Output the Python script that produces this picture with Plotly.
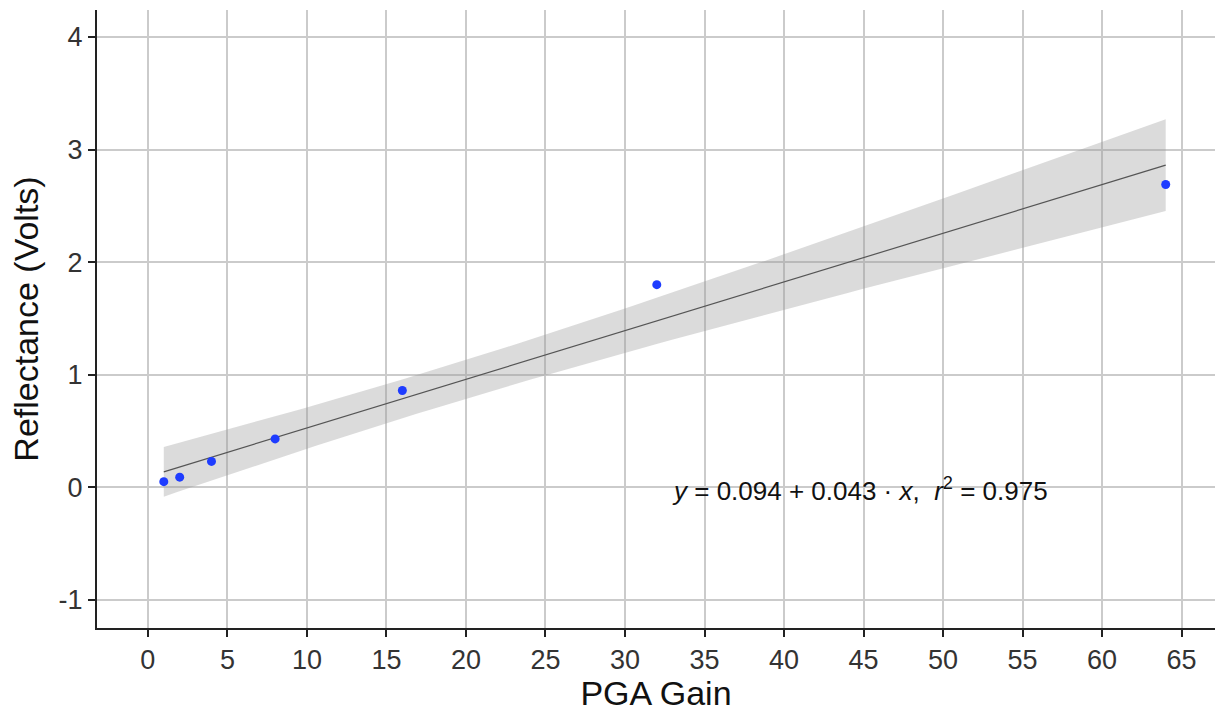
import numpy as np
import plotly.graph_objects as go

# Data
pga_gain = [1, 2, 4, 8, 16, 32, 64]
reflectance = [0.05, 0.09, 0.23, 0.43, 0.86, 1.80, 2.69]
x_ticks = list(range(0, 70, 5))
y_ticks = [-1, 0, 1, 2, 3, 4]
eq_label = "<i>y</i> = 0.094 + 0.043 · <i>x</i>,\u00a0\u00a0<i>r</i><sup>2</sup> = 0.975"

# Linear fit with 95% confidence band (like geom_smooth(method="lm"))
x = np.array(pga_gain, dtype=float)
y = np.array(reflectance, dtype=float)
n = len(x)
slope, intercept = np.polyfit(x, y, 1)
resid = y - (intercept + slope * x)
s = np.sqrt(np.sum(resid ** 2) / (n - 2))
sxx = np.sum((x - x.mean()) ** 2)
t_crit = 2.570581836  # t(0.975, df=5)
xf = np.linspace(x.min(), x.max(), 80)
yf = intercept + slope * xf
se = s * np.sqrt(1.0 / n + (xf - x.mean()) ** 2 / sxx)
upper = yf + t_crit * se
lower = yf - t_crit * se

FONT = "Liberation Sans, Arial, Helvetica, sans-serif"

fig = go.Figure()
fig.add_trace(go.Scatter(
    x=np.concatenate([xf, xf[::-1]]),
    y=np.concatenate([upper, lower[::-1]]),
    fill="toself", fillcolor="rgba(153,153,153,0.35)",
    line=dict(width=0), hoverinfo="skip", showlegend=False, mode="lines"))
fig.add_trace(go.Scatter(x=xf, y=yf, mode="lines",
                         line=dict(color="#555555", width=1.2), showlegend=False))
fig.add_trace(go.Scatter(x=pga_gain, y=reflectance, mode="markers",
                         marker=dict(color="#1e3cff", size=9), showlegend=False))

fig.add_annotation(x=44.8, y=-0.02, text=eq_label, showarrow=False,
                   font=dict(family=FONT, size=26, color="#111111"),
                   xanchor="center", yanchor="middle")

axis_common = dict(
    showgrid=True, gridcolor="#cbcbcb", gridwidth=1.6,
    zeroline=False, showline=True, linecolor="#222222", linewidth=2,
    ticks="outside", ticklen=7, tickwidth=1.6, tickcolor="#222222",
    tickfont=dict(family=FONT, size=27, color="#333333"),
    mirror=False,
)

fig.update_layout(
    width=1222, height=712,
    margin=dict(l=97, r=7, t=10, b=82),
    plot_bgcolor="white", paper_bgcolor="white",
    xaxis=dict(range=[-3.2, 67.1], tickvals=x_ticks, ticktext=[str(v) for v in x_ticks],
               title=dict(text="PGA Gain", font=dict(family=FONT, size=34, color="#111111"),
                          standoff=6),
               **axis_common),
    yaxis=dict(range=[-1.25, 4.24], tickvals=y_ticks, ticktext=[str(v) for v in y_ticks],
               title=dict(text="Reflectance (Volts)", font=dict(family=FONT, size=34, color="#111111"),
                          standoff=10),
               **axis_common),
)

fig.write_html("out.html")
